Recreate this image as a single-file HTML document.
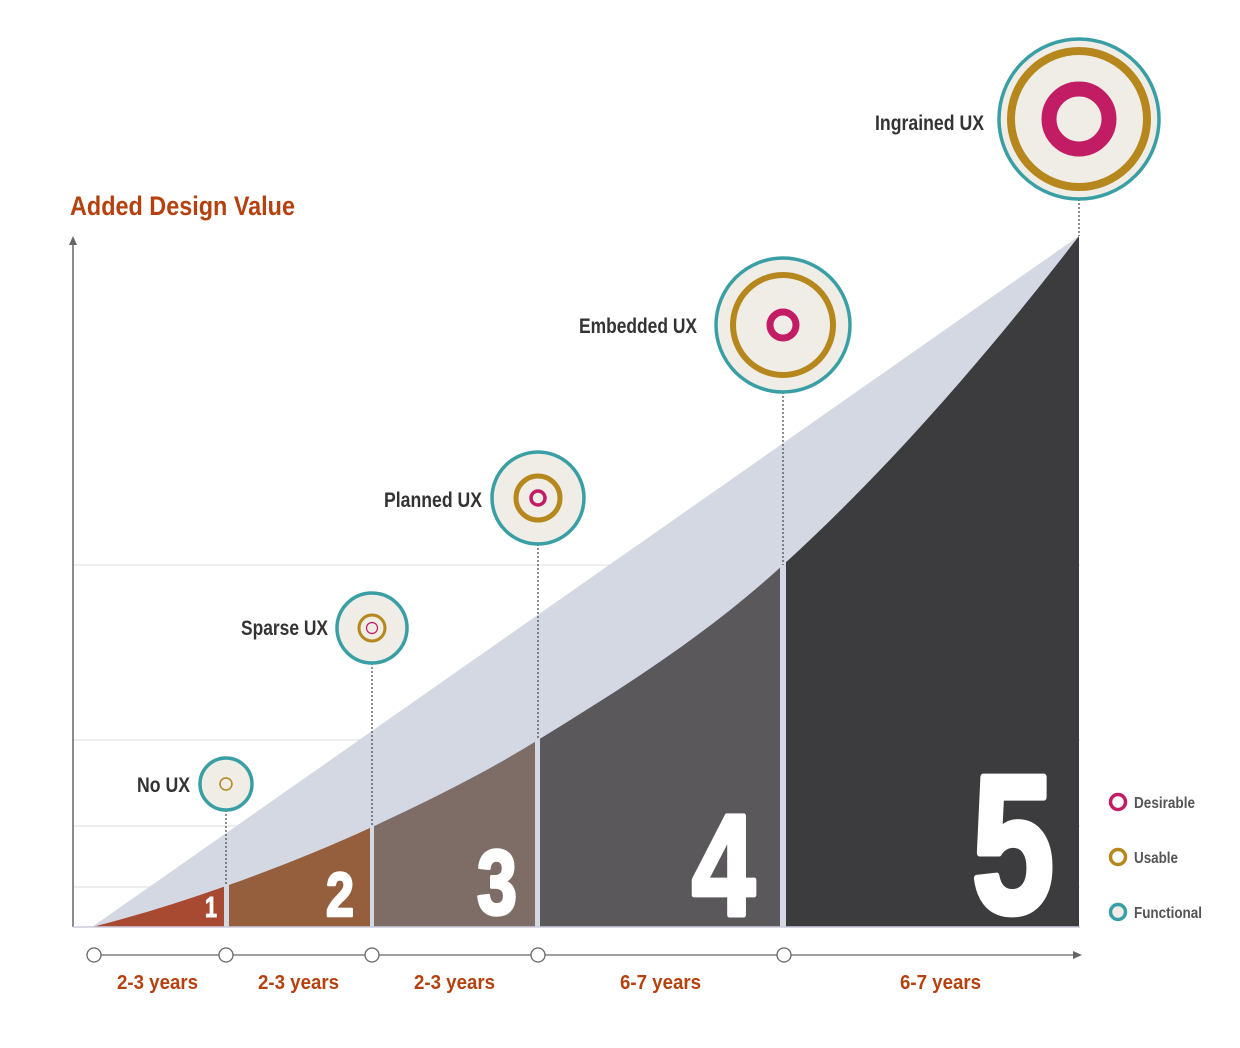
<!DOCTYPE html>
<html><head><meta charset="utf-8"><style>
html,body{margin:0;padding:0;background:#fff;}
svg{display:block;}
text{font-family:"Liberation Sans",sans-serif;font-weight:bold;}
</style></head><body>
<svg width="1240" height="1048" viewBox="0 0 1240 1048" xmlns="http://www.w3.org/2000/svg">
<g stroke="#dcdde2" stroke-width="1">
<line x1="73" y1="887" x2="1080" y2="887"/>
<line x1="73" y1="826" x2="1080" y2="826"/>
<line x1="73" y1="740" x2="1080" y2="740"/>
<line x1="73" y1="565" x2="1080" y2="565"/>
</g>
<polygon points="92,927 1079,236 1079,927" fill="#d4d8e3"/>
<defs>
<clipPath id="cv"><path d="M92,927 C136.7,915.8 181.3,901.9 226,886 C274.7,868.7 323.3,849.6 372,827 C427.3,801.3 482.7,774.3 538,740 C619.7,689.4 701.3,639.3 783,565 C881.7,475.2 980.3,364.3 1079,236 L1079,927 Z"/></clipPath>
</defs>
<g clip-path="url(#cv)">
<rect x="90" y="200" width="134" height="730" fill="#a84a32"/>
<rect x="229" y="200" width="141" height="730" fill="#955f3e"/>
<rect x="374" y="200" width="161" height="730" fill="#7e6c66"/>
<rect x="540" y="200" width="240" height="730" fill="#5a585b"/>
<rect x="786" y="200" width="294" height="730" fill="#3c3c3f"/>
</g>
<line x1="73" y1="243" x2="73" y2="927" stroke="#666" stroke-width="1.5"/>
<polygon points="73,236 69,245 77,245" fill="#666"/>
<line x1="73" y1="927" x2="1080" y2="927" stroke="#ccd" stroke-width="1.5"/>
<g fill="#fff" stroke="#fff" stroke-linejoin="round">
<text x="205" y="917" font-size="29" stroke-width="1" textLength="12" lengthAdjust="spacingAndGlyphs">1</text>
<text x="326" y="916" font-size="62" stroke-width="2.5" textLength="28" lengthAdjust="spacingAndGlyphs">2</text>
<text x="477" y="914" font-size="92" stroke-width="3.5" textLength="40" lengthAdjust="spacingAndGlyphs">3</text>
<text x="692" y="915" font-size="144" stroke-width="5" textLength="63" lengthAdjust="spacingAndGlyphs">4</text>
<text x="972" y="912" font-size="196" stroke-width="7" textLength="82" lengthAdjust="spacingAndGlyphs">5</text>
</g>
<g stroke="#444" stroke-width="1.2" stroke-dasharray="2,2">
<line x1="226" y1="810" x2="226" y2="886"/>
<line x1="372" y1="663" x2="372" y2="827"/>
<line x1="538" y1="544" x2="538" y2="740"/>
<line x1="783" y1="392" x2="783" y2="565"/>
<line x1="1079" y1="199" x2="1079" y2="236"/>
</g>
<g stroke="#3a9ea5" fill="#efede6" stroke-width="3.5">
<circle cx="226" cy="784" r="26"/>
<circle cx="372" cy="628" r="35"/>
<circle cx="538" cy="498" r="46"/>
<circle cx="783" cy="325" r="67"/>
<circle cx="1079" cy="119" r="80"/>
</g>
<g fill="none" stroke="#b5871c">
<circle cx="226" cy="784" r="6" stroke-width="1.5"/>
<circle cx="372" cy="628" r="13" stroke-width="3"/>
<circle cx="538" cy="498" r="22" stroke-width="5"/>
<circle cx="783" cy="325" r="50" stroke-width="6"/>
<circle cx="1079" cy="119" r="68" stroke-width="8"/>
</g>
<g fill="none" stroke="#c21d64">
<circle cx="372" cy="628" r="5.5" stroke-width="1.2"/>
<circle cx="538" cy="498" r="7" stroke-width="3.5"/>
<circle cx="783" cy="325" r="13" stroke-width="7"/>
<circle cx="1079" cy="119" r="30" stroke-width="15"/>
</g>
<g fill="#333" font-size="21" text-anchor="end">
<text x="190" y="792" textLength="53" lengthAdjust="spacingAndGlyphs">No UX</text>
<text x="328" y="635" textLength="87" lengthAdjust="spacingAndGlyphs">Sparse UX</text>
<text x="482" y="507" textLength="98" lengthAdjust="spacingAndGlyphs">Planned UX</text>
<text x="697" y="333" textLength="118" lengthAdjust="spacingAndGlyphs">Embedded UX</text>
<text x="984" y="130" textLength="109" lengthAdjust="spacingAndGlyphs">Ingrained UX</text>
</g>
<text x="70" y="215" font-size="27" fill="#b5410f" textLength="225" lengthAdjust="spacingAndGlyphs">Added Design Value</text>
<line x1="94" y1="955" x2="1076" y2="955" stroke="#666" stroke-width="1.3"/>
<polygon points="1082,955 1073,951 1073,959" fill="#666"/>
<g fill="#fff" stroke="#666" stroke-width="1.3">
<circle cx="94" cy="955" r="7"/>
<circle cx="226" cy="955" r="7"/>
<circle cx="372" cy="955" r="7"/>
<circle cx="538" cy="955" r="7"/>
<circle cx="784" cy="955" r="7"/>
</g>
<g fill="#b5410f" font-size="20">
<text x="117" y="989" textLength="81" lengthAdjust="spacingAndGlyphs">2-3 years</text>
<text x="258" y="989" textLength="81" lengthAdjust="spacingAndGlyphs">2-3 years</text>
<text x="414" y="989" textLength="81" lengthAdjust="spacingAndGlyphs">2-3 years</text>
<text x="620" y="989" textLength="81" lengthAdjust="spacingAndGlyphs">6-7 years</text>
<text x="900" y="989" textLength="81" lengthAdjust="spacingAndGlyphs">6-7 years</text>
</g>
<circle cx="1118" cy="802" r="7.5" fill="#fff" stroke="#c21d64" stroke-width="3.5"/>
<circle cx="1118" cy="857" r="7.5" fill="#fff" stroke="#b5871c" stroke-width="3.5"/>
<circle cx="1118" cy="912" r="7.5" fill="#efede6" stroke="#3a9ea5" stroke-width="3.5"/>
<g fill="#555" font-size="16">
<text x="1134" y="808" textLength="61" lengthAdjust="spacingAndGlyphs">Desirable</text>
<text x="1134" y="863" textLength="44" lengthAdjust="spacingAndGlyphs">Usable</text>
<text x="1134" y="918" textLength="68" lengthAdjust="spacingAndGlyphs">Functional</text>
</g>
</svg>
</body></html>
